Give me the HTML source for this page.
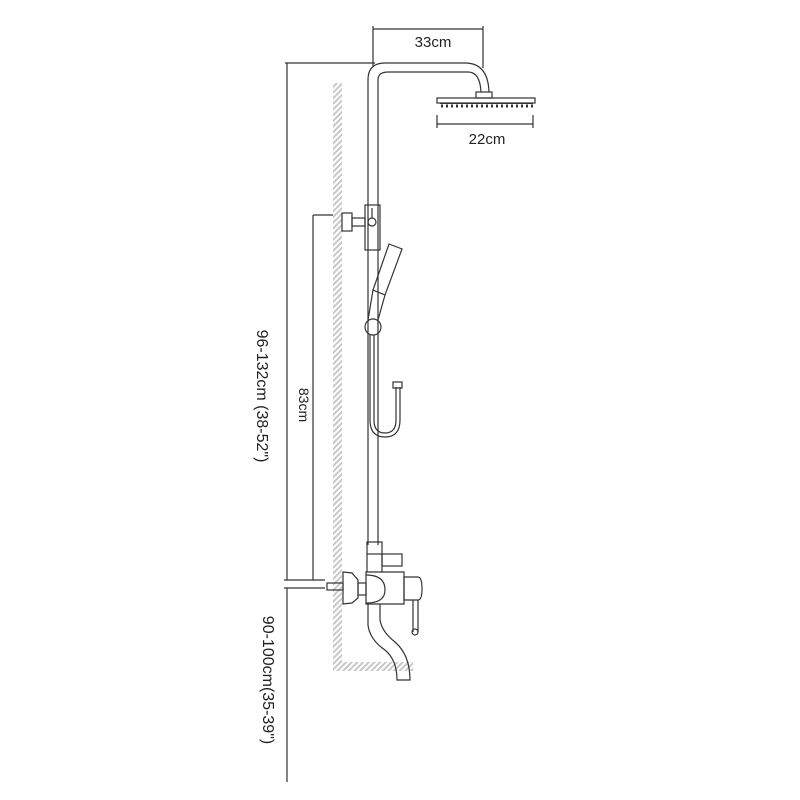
<!DOCTYPE html>
<html><head><meta charset="utf-8"><style>body{margin:0;background:#fff}svg{display:block}</style></head>
<body>
<svg width="800" height="800" viewBox="0 0 800 800" xmlns="http://www.w3.org/2000/svg" font-family="Liberation Sans, sans-serif">
<defs>
<pattern id="h" width="4" height="4" patternUnits="userSpaceOnUse" patternTransform="rotate(45)">
<rect width="4" height="4" fill="#fff"/><rect width="2" height="4" fill="#c8c8c8"/></pattern>
</defs>
<rect x="333" y="83" width="9" height="587" fill="url(#h)"/>
<rect x="333" y="662" width="80" height="9" fill="url(#h)"/>
<g fill="none" stroke="#333" stroke-width="1.2">
<line x1="373" y1="26" x2="373" y2="66"/>
<line x1="483" y1="26" x2="483" y2="68"/>
<line x1="373" y1="29" x2="483" y2="29"/>
<line x1="437" y1="115" x2="437" y2="128"/>
<line x1="533" y1="115" x2="533" y2="128"/>
<line x1="437" y1="124" x2="533" y2="124"/>
<line x1="285" y1="63" x2="375" y2="63"/>
<line x1="287" y1="63" x2="287" y2="580"/>
<line x1="287" y1="588" x2="287" y2="782"/>
<line x1="284" y1="580" x2="325" y2="580"/>
<line x1="284" y1="588" x2="325" y2="588"/>
<line x1="313" y1="215" x2="333" y2="215"/>
<line x1="313" y1="215" x2="313" y2="580"/>
<path d="M368 545 V80 Q368 63 385 63 H465 Q488 63 489 92"/>
<path d="M378 545 V80 Q378 72 388 72 H468 Q480 72 481 92"/>
<rect x="476" y="92" width="16" height="6"/>
<rect x="437" y="98" width="98" height="5"/>
<rect x="365" y="205" width="15" height="45"/>
<circle cx="372" cy="222" r="4"/>
<line x1="372" y1="208" x2="372" y2="218"/>
<rect x="342" y="213" width="10" height="18"/>
<rect x="352" y="218" width="13" height="8"/>
<path d="M389 244 L402 249 L385 295 L373 290 Z"/>
<line x1="373" y1="290" x2="368" y2="320"/>
<line x1="385" y1="295" x2="378" y2="320"/>
<circle cx="373" cy="327" r="8"/>
<path d="M370 335 V420 Q370 437 385 437 Q400 437 400 420 V387"/>
<path d="M374 335 V420 Q374 433 385 433 Q396 433 396 420 V387"/>
<rect x="393" y="382" width="9" height="6"/>
<rect x="367" y="542" width="15" height="12"/>
<line x1="367" y1="554" x2="367" y2="572"/>
<line x1="382" y1="554" x2="382" y2="572"/>
<rect x="382" y="554" width="20" height="12"/>
<path d="M366 572 H404 V604 H366 Z"/>
<path d="M366 575 Q385 575 385 590 Q385 603 366 603"/>
<path d="M404 577 H418 Q422 577 422 589 Q422 600 418 600 H404 Z"/>
<path d="M413 600 L413 632 M418 600 L418 632"/>
<circle cx="415" cy="632" r="3"/>
<path d="M343 572 L352 573 L358 580 L358 598 L352 603 L343 604 Z"/>
<rect x="358" y="583" width="8" height="12"/>
<rect x="327" y="583" width="16" height="7"/>
<path d="M368 604 V625 Q370 640 385 650 Q397 660 397 680 H410 Q410 655 395 642 Q382 632 380 620 V604"/>
</g>
<rect x="440" y="103" width="93" height="1" fill="#333"/>
<line x1="441" y1="106" x2="533" y2="106" stroke="#333" stroke-width="3" stroke-dasharray="2 3"/>
<g fill="#222">
<text x="433" y="47" font-size="15" text-anchor="middle">33cm</text>
<text x="487" y="144" font-size="15" text-anchor="middle">22cm</text>
<text transform="translate(257,396) rotate(90)" font-size="16" text-anchor="middle">96-132cm (38-52")</text>
<text transform="translate(299,405) rotate(90)" font-size="14" text-anchor="middle">83cm</text>
<text transform="translate(263,680) rotate(90)" font-size="16" text-anchor="middle">90-100cm(35-39")</text>
</g>
</svg>
</body></html>
